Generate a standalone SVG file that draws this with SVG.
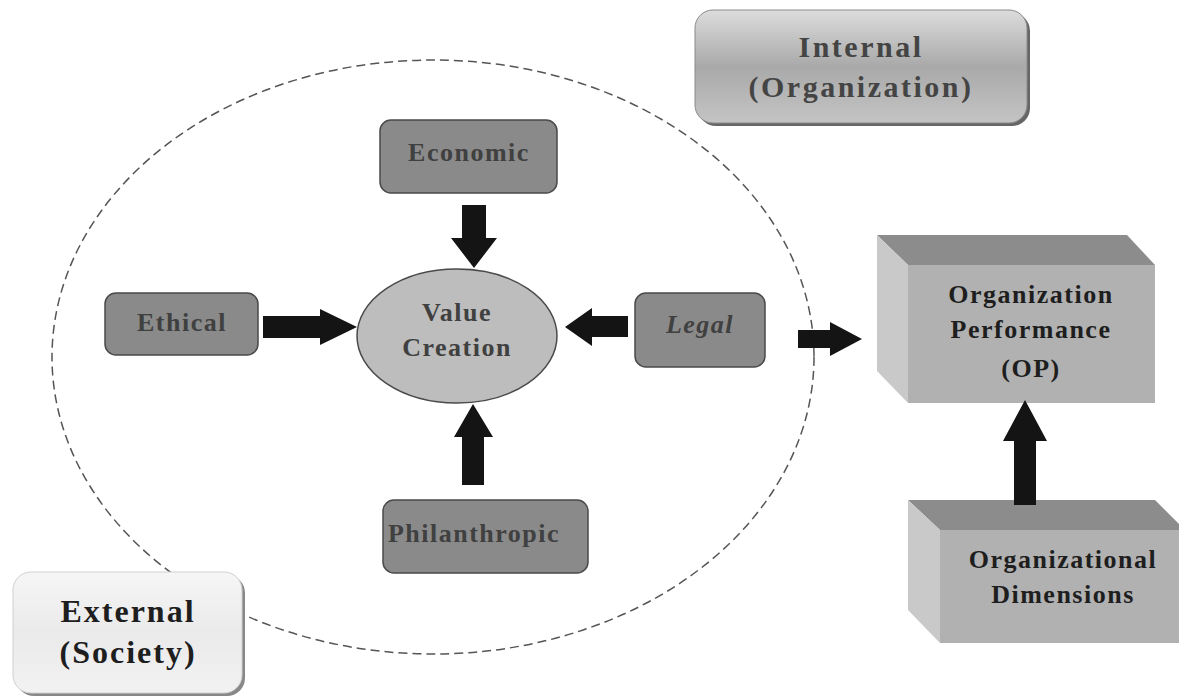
<svg xmlns="http://www.w3.org/2000/svg" width="1179" height="698" viewBox="0 0 1179 698">
<defs>
<style>
.t{font-family:'Liberation Serif',Tinos,'Times New Roman','DejaVu Serif',serif;font-weight:700;text-anchor:middle}
.n{font-size:26px;letter-spacing:1.5px;fill:#404040}
.node{fill:#8a8a8a;stroke:#4a4a4a;stroke-width:1.5}
.arr{fill:#141414}
.dk{fill:#1e1e1e}
</style>
<linearGradient id="gInt" x1="0" y1="0" x2="0" y2="1">
<stop offset="0" stop-color="#dcdcdc"/>
<stop offset="0.5" stop-color="#a9a9a9"/>
<stop offset="1" stop-color="#c4c4c4"/>
</linearGradient>
<linearGradient id="gExt" x1="0" y1="0" x2="0" y2="1">
<stop offset="0" stop-color="#f6f6f6"/>
<stop offset="0.5" stop-color="#eaeaea"/>
<stop offset="1" stop-color="#f2f2f2"/>
</linearGradient>
</defs>
<rect width="1179" height="698" fill="#ffffff"/>

<ellipse id="society-boundary" cx="433" cy="357" rx="381" ry="297" fill="none" stroke="#555" stroke-width="1.5" stroke-dasharray="9 5"/>

<g id="internal">
<rect x="698" y="13" width="332" height="113" rx="18" fill="#666"/>
<rect x="695" y="10" width="332" height="113" rx="18" fill="url(#gInt)" stroke="#8a8a8a" stroke-width="1"/>
<text class="t" font-family="Liberation Serif, serif" x="861" y="57" font-size="30" letter-spacing="2.5" fill="#444">Internal</text>
<text class="t" font-family="Liberation Serif, serif" x="861" y="97" font-size="30" letter-spacing="2.5" fill="#444">(Organization)</text>
</g>

<g id="external">
<rect x="16" y="575" width="229" height="121" rx="18" fill="#888"/>
<rect x="13" y="572" width="229" height="121" rx="18" fill="url(#gExt)" stroke="#d0d0d0" stroke-width="1"/>
<text class="t dk" x="128" y="622" font-size="32" letter-spacing="2">External</text>
<text class="t dk" x="128" y="663" font-size="32" letter-spacing="2">(Society)</text>
</g>

<g id="economic">
<rect class="node" x="380" y="120" width="177" height="73" rx="11"/>
<text class="t n" x="469" y="161">Economic</text>
</g>

<g id="ethical">
<rect class="node" x="105" y="293" width="153" height="62" rx="11"/>
<text class="t n" x="182" y="331">Ethical</text>
</g>

<g id="legal">
<rect class="node" x="635" y="293" width="130" height="74" rx="11"/>
<text class="t n" x="700" y="333" font-style="italic">Legal</text>
</g>

<g id="philanthropic">
<rect class="node" x="383" y="500" width="205" height="73" rx="11"/>
<text class="t n" x="474" y="542">Philanthropic</text>
</g>

<g id="value-creation">
<ellipse cx="457" cy="336" rx="100" ry="67" fill="#bdbdbd" stroke="#4a4a4a" stroke-width="1.5"/>
<text class="t n" x="457" y="321">Value</text>
<text class="t n" x="457" y="356">Creation</text>
</g>

<g id="organization-performance">
<polygon points="877,235 1127,235 1155,265 908,265" fill="#8c8c8c"/>
<polygon points="877,235 908,265 908,403 877,371" fill="#c9c9c9"/>
<rect x="908" y="265" width="247" height="138" fill="#b1b1b1"/>
<text class="t dk" x="1031" y="303" font-size="26" letter-spacing="1.5">Organization</text>
<text class="t dk" x="1031" y="338" font-size="26" letter-spacing="1.5">Performance</text>
<text class="t dk" x="1031" y="377" font-size="26" letter-spacing="1.5">(OP)</text>
</g>

<g id="organizational-dimensions">
<polygon points="908,500 1155,500 1185,530 940,530" fill="#8c8c8c"/>
<polygon points="908,500 940,530 940,643 908,610" fill="#c9c9c9"/>
<rect x="940" y="530" width="245" height="113" fill="#b1b1b1"/>
<text class="t dk" x="1063" y="568" font-size="26" letter-spacing="1.5">Organizational</text>
<text class="t dk" x="1063" y="603" font-size="26" letter-spacing="1.5">Dimensions</text>
</g>

<g id="connectors">
<polygon class="arr" points="462,205 486,205 486,238 497,238 474,268 451,238 462,238"/>
<polygon class="arr" points="263,316 320,316 320,309 357,327 320,345 320,338 263,338"/>
<polygon class="arr" points="628,316 592,316 592,308 565,327 592,346 592,337 628,337"/>
<polygon class="arr" points="462,485 484,485 484,437 493,437 473,404 454,437 462,437"/>
<polygon class="arr" points="798,330 830,330 830,322 862,339 830,356 830,348 798,348"/>
<polygon class="arr" points="1014,505 1036,505 1036,441 1047,441 1025,400 1003,441 1014,441"/>
</g>
</svg>
